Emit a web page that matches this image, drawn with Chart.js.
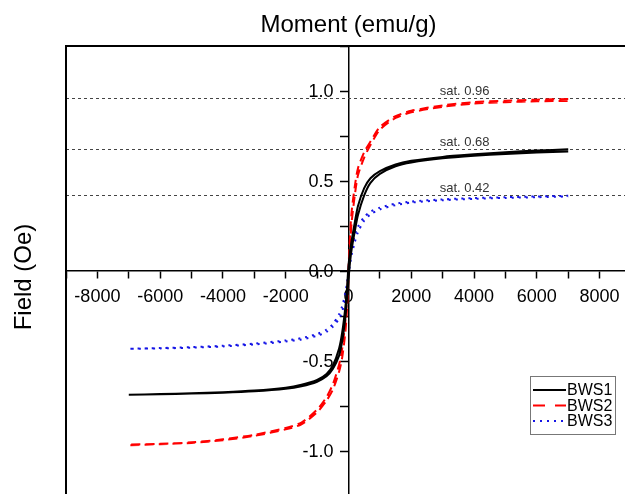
<!DOCTYPE html>
<html>
<head>
<meta charset="utf-8">
<script src="https://cdn.jsdelivr.net/npm/chart.js@4.4.1/dist/chart.umd.min.js"></script>
<style>
  html, body { margin: 0; padding: 0; background: #fff; overflow: hidden; }
  /* the plot frame runs a few pixels past the window, so the canvas is cropped */
  #wrap { width: 625px; height: 494px; overflow: hidden; position: relative; }
  #chart { position: absolute; left: 0; top: 0; }
</style>
</head>
<body>
<div id="wrap"><canvas id="chart" width="640" height="500"></canvas></div>
<script>
// Field values (Oe) shared by every branch
const fields = [-7000, -6000, -5000, -4000, -3000, -2000, -1500, -1000, -700, -500, -300, -200, -100, -50, 0,
                50, 100, 200, 300, 500, 700, 1000, 1500, 2000, 3000, 4000, 5000, 6000, 7000];

// Moment (emu/g), upper branch = field sweeping down, lower branch = field sweeping up
const bws1Upper = [-0.688, -0.684, -0.679, -0.673, -0.664, -0.648, -0.632, -0.605, -0.572, -0.525, -0.43, -0.34, -0.2, -0.1, 0.03,
                   0.11, 0.17, 0.27, 0.36, 0.46, 0.515, 0.555, 0.592, 0.612, 0.634, 0.648, 0.66, 0.669, 0.676];
const bws1Lower = [-0.688, -0.685, -0.681, -0.676, -0.668, -0.654, -0.64, -0.615, -0.585, -0.545, -0.47, -0.39, -0.26, -0.16, -0.05,
                   0.05, 0.12, 0.22, 0.31, 0.42, 0.49, 0.54, 0.582, 0.603, 0.626, 0.64, 0.65, 0.658, 0.664];

const bws2Upper = [-0.965, -0.96, -0.952, -0.935, -0.91, -0.872, -0.842, -0.77, -0.7, -0.63, -0.52, -0.43, -0.28, -0.16, 0.02,
                   0.2, 0.33, 0.47, 0.57, 0.66, 0.72, 0.8, 0.86, 0.89, 0.92, 0.938, 0.946, 0.952, 0.955];
const bws2Lower = [-0.968, -0.962, -0.955, -0.94, -0.916, -0.88, -0.852, -0.785, -0.72, -0.66, -0.56, -0.48, -0.34, -0.22, -0.04,
                   0.13, 0.27, 0.42, 0.53, 0.63, 0.7, 0.785, 0.85, 0.882, 0.912, 0.93, 0.938, 0.943, 0.945];

const bws3Upper = [-0.432, -0.428, -0.423, -0.415, -0.403, -0.386, -0.373, -0.35, -0.325, -0.295, -0.24, -0.195, -0.12, -0.07, 0.01,
                   0.08, 0.13, 0.2, 0.245, 0.3, 0.33, 0.352, 0.374, 0.386, 0.398, 0.405, 0.41, 0.414, 0.418];
const bws3Lower = [-0.432, -0.43, -0.426, -0.419, -0.408, -0.392, -0.38, -0.36, -0.338, -0.31, -0.265, -0.225, -0.16, -0.11, -0.03,
                   0.04, 0.09, 0.16, 0.215, 0.28, 0.315, 0.342, 0.366, 0.38, 0.393, 0.401, 0.406, 0.41, 0.414];

const sampleNames = ['BWS1', 'BWS2', 'BWS3'];
const satLevels = [0.96, 0.68, 0.42];
const satLabels = ['sat. 0.96', 'sat. 0.68', 'sat. 0.42'];
const satLabelField = 3700;

const FONT = "'Liberation Sans', Arial, sans-serif";

// one closed loop: down sweep (7000 -> -7000) then up sweep (-7000 -> 7000)
const loop = (upper, lower) => {
  const down = fields.map((x, i) => ({ x, y: upper[i] })).reverse();
  const up = fields.map((x, i) => ({ x, y: lower[i] }));
  return down.concat(up);
};

const styles = [
  { color: '#000000', dash: [],     width: 2 },
  { color: '#ff0000', dash: [9, 5], width: 2 },
  { color: '#1515e6', dash: [2, 5], width: 2 },
];

const loops = [loop(bws1Upper, bws1Lower), loop(bws2Upper, bws2Lower), loop(bws3Upper, bws3Lower)];

const datasets = sampleNames.map((name, i) => ({
  label: name,
  data: loops[i],
  showLine: true,
  borderColor: styles[i].color,
  borderDash: styles[i].dash,
  borderWidth: styles[i].width,
  pointRadius: 0,
  tension: 0.25,
  fill: false,
}));

// y labels: Chart.js puts them on the axis line when the axis sits at x = 0,
// so they are drawn here, 15px left of the axis
const isHalf = (v) => Math.abs(v * 2 - Math.round(v * 2)) < 1e-6 && Math.abs(v) < 1.2;

// centred axes must not eat into the plot area
const noSpace = (s) => {
  if (s.isHorizontal()) s.height = 0; else s.width = 0;
  s.paddingLeft = s.paddingRight = s.paddingTop = s.paddingBottom = 0;
};

// sat. lines under the curves; frame, titles and legend on top
const decorations = {
  id: 'decorations',
  beforeDatasetsDraw(chart) {
    const { ctx, chartArea: a, scales: { x, y } } = chart;
    ctx.save();
    ctx.strokeStyle = '#444';
    ctx.lineWidth = 1;
    ctx.setLineDash([3, 3]);
    satLevels.forEach((lvl, i) => {
      const py = Math.round(y.getPixelForValue(lvl)) + 0.5;
      ctx.beginPath();
      ctx.moveTo(a.left, py);
      ctx.lineTo(a.right, py);
      ctx.stroke();
      ctx.fillStyle = '#333';
      ctx.font = `13px ${FONT}`;
      ctx.textAlign = 'center';
      ctx.textBaseline = 'bottom';
      ctx.fillText(satLabels[i], x.getPixelForValue(satLabelField), py - 1);
    });
    ctx.restore();
  },
  afterDraw(chart) {
    const { ctx, chartArea: a, scales: { x, y } } = chart;
    ctx.save();
    // frame
    ctx.strokeStyle = '#000';
    ctx.lineWidth = 2;
    ctx.setLineDash([]);
    ctx.strokeRect(a.left, a.top, a.right - a.left, a.bottom - a.top);

    // y tick labels
    ctx.fillStyle = '#000';
    ctx.font = `18px ${FONT}`;
    ctx.textAlign = 'right';
    ctx.textBaseline = 'middle';
    const axisX = x.getPixelForValue(0);
    y.ticks.forEach((t) => {
      if (isHalf(t.value)) ctx.fillText(t.value.toFixed(1), axisX - 15, y.getPixelForValue(t.value) + 1);
    });

    // titles
    ctx.font = `24px ${FONT}`;
    ctx.textAlign = 'center';
    ctx.fillText('Moment (emu/g)', axisX, 25);
    ctx.save();
    ctx.translate(24, 277);
    ctx.rotate(-Math.PI / 2);
    ctx.fillText('Field (Oe)', 0, 0);
    ctx.restore();

    // legend box
    const lx = 530.5, ly = 376.5, lw = 85, lh = 58;
    ctx.fillStyle = '#fff';
    ctx.fillRect(lx, ly, lw, lh);
    ctx.strokeStyle = '#777';
    ctx.lineWidth = 1;
    ctx.strokeRect(lx, ly, lw, lh);
    ctx.font = `16px ${FONT}`;
    ctx.textAlign = 'left';
    ctx.textBaseline = 'middle';
    sampleNames.forEach((name, i) => {
      const ry = 390 + i * 15.5;
      ctx.strokeStyle = styles[i].color;
      ctx.lineWidth = styles[i].width;
      ctx.setLineDash(i === 1 ? [12, 10] : styles[i].dash);
      ctx.beginPath();
      ctx.moveTo(533, ry);
      ctx.lineTo(566, ry);
      ctx.stroke();
      ctx.fillStyle = '#000';
      ctx.fillText(name, 567, ry + 1);
    });
    ctx.restore();
  },
};

new Chart(document.getElementById('chart'), {
  type: 'scatter',
  data: { datasets },
  options: {
    responsive: false,
    animation: false,
    layout: { padding: { left: 66, top: 46, right: 9, bottom: 4 } },
    plugins: {
      legend: { display: false },
      tooltip: { enabled: false },
    },
    scales: {
      x: {
        type: 'linear',
        position: { y: 0 },
        min: -9000,
        max: 9000,
        afterFit: noSpace,
        ticks: {
          stepSize: 1000,
          autoSkip: false,
          maxRotation: 0,
          padding: 8,
          color: '#000',
          font: { family: FONT, size: 18 },
          callback: (v) => (v % 2000 === 0 && Math.abs(v) < 9000 ? String(v) : ''),
        },
        grid: { drawOnChartArea: false, drawTicks: true, tickLength: 7, color: '#000', tickWidth: 1.5 },
        border: { display: true, color: '#000', width: 1.5 },
      },
      y: {
        type: 'linear',
        position: { x: 0 },
        min: -1.25,
        max: 1.25,
        afterFit: noSpace,
        ticks: {
          stepSize: 0.25,
          autoSkip: false,
          display: false,
        },
        grid: { drawOnChartArea: false, drawTicks: true, tickLength: 8, color: '#000', tickWidth: 1.5 },
        border: { display: true, color: '#000', width: 1.5 },
      },
    },
  },
  plugins: [decorations],
});
</script>
</body>
</html>
